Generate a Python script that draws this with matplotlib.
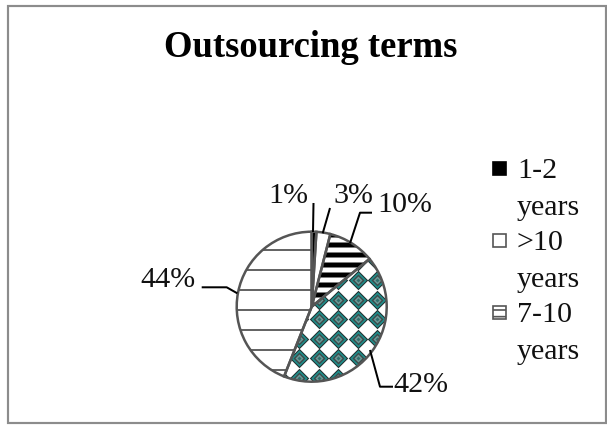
import matplotlib
matplotlib.use('Agg')
import matplotlib.pyplot as plt
from matplotlib.patches import Rectangle
import numpy as np

# ---- data ----
categories = ["1-2 years", ">10 years", "7-10 years", "3-6 years", "<1 year"]
shares = [1, 3, 10, 42, 44]
pct_labels = ["1%", "3%", "10%", "42%", "44%"]
n_legend = 3  # only first three legend entries are visible

W, H = 607, 425
DPI = 120
SERIF = ['Liberation Serif', 'DejaVu Serif']

fig = plt.figure(figsize=(W / DPI, H / DPI), dpi=DPI)
ax = fig.add_axes([0, 0, 1, 1])

def Y(y):
    return H - y

cx, cy, R = 311.7, Y(306.7), 75

faces = ['black', 'white', 'white', 'white', 'white']
hatches = [None, None, '--', None, '-']
hatch_cols = ['black', 'white', 'black', 'white', '#333333']
hatch_lws = [1.0, 1.0, 3.0, 1.0, 0.9]

# fill / hatch layer
wedges, _ = ax.pie(shares, startangle=90, counterclock=False, center=(cx, cy),
                   radius=R, colors=faces, hatch=hatches,
                   wedgeprops=dict(linewidth=0))
for w, hc, hl in zip(wedges, hatch_cols, hatch_lws):
    w.set_edgecolor(hc)
    w.set_linewidth(0)
    if hasattr(w, 'set_hatch_linewidth'):
        w.set_hatch_linewidth(hl)

# diamond pattern for the 42% slice
step = 19.5
xs = np.arange(cx - R - step, cx + R + step, step) + 4
ys = np.arange(cy - R - step, cy + R + step, step) + 4
gx, gy = np.meshgrid(xs, ys)
gx, gy = gx.ravel(), gy.ravel()

def dsize(diag_px):
    pts = diag_px * 72 / DPI
    return (pts / 1.4142) ** 2

layers = [(19.5, '#223030'), (16.5, '#1f8f8c'), (12, '#3c4a4a'),
          (8, '#6f9896'), (4, '#2f6e6c')]
for d, col in layers:
    sc = ax.scatter(gx, gy, s=dsize(d), marker='D', c=col, linewidths=0, zorder=2)
    sc.set_clip_path(wedges[3])

# outline layer
outl, _ = ax.pie(shares, startangle=90, counterclock=False, center=(cx, cy),
                 radius=R, colors=['none'] * len(shares),
                 wedgeprops=dict(linewidth=1.5, edgecolor='#555555'))
for w in outl:
    w.set_zorder(3)

# percentage labels with leader lines
label_pos = [(268, 203), (333, 203), (377, 211.7), (393, 392), (140, 286.7)]
leaders = [
    [(313.5, 203), (313, 232)],
    [(330, 208), (322.7, 233.3)],
    [(372, 212.7), (360, 212.7), (350, 243.3)],
    [(370, 350), (380, 386.7), (393, 386.7)],
    [(201.7, 287.3), (226.7, 287.3), (237.3, 293.3)],
]
for lab, (lx, ly), pts in zip(pct_labels, label_pos, leaders):
    ax.text(lx, Y(ly), lab, fontsize=18, family=SERIF, ha='left', va='baseline',
            color='#111111', zorder=5)
    px = [p[0] for p in pts]
    py = [Y(p[1]) for p in pts]
    ax.plot(px, py, color='black', lw=1.2, zorder=4, solid_capstyle='butt')

# title
ax.text(311, Y(57), "Outsourcing terms", fontsize=22, fontweight='bold',
        family=SERIF, ha='center', va='baseline', color='black')

# legend (manual)
leg_base = [178, 250, 322]
for i in range(n_legend):
    b = leg_base[i]
    first, second = categories[i].split(' ', 1)
    sq = Rectangle((492.5, Y(b - 3)), 13, 13,
                   facecolor=faces[i], edgecolor='#555555' if i > 0 else 'black',
                   lw=1.0, zorder=5)
    if hatches[i]:
        sq.set_hatch('---')
    ax.add_patch(sq)
    ax.text(517, Y(b), first, fontsize=18, family=SERIF, ha='left', va='baseline',
            color='#111111')
    ax.text(517, Y(b + 37), second, fontsize=18, family=SERIF, ha='left',
            va='baseline', color='#111111')

# outer border
ax.add_patch(Rectangle((7.5, Y(423)), 598, 417, fill=False, edgecolor='#8c8c8c',
                       lw=1.3, clip_on=False, zorder=6))

ax.set_xlim(0, W)
ax.set_ylim(0, H)
ax.set_aspect('auto')
ax.axis('off')

fig.savefig('out.png', dpi=DPI, facecolor='white')
